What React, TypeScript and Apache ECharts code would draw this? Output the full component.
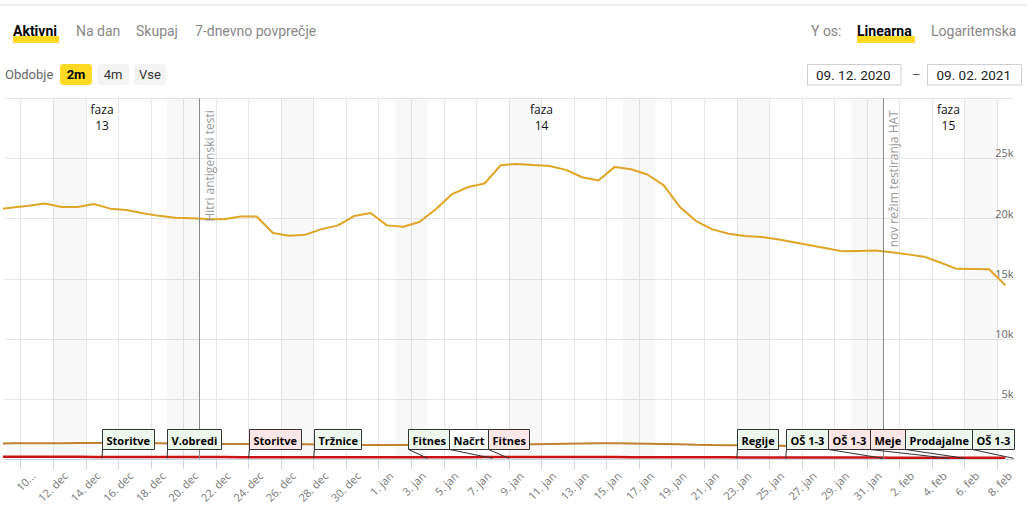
import React, { useEffect, useRef } from "react";
import * as echarts from "echarts";

// Tick categories: midnights from 9. dec 2020 to 9. feb 2021
const days = [
  "9. dec", "10. dec", "11. dec", "12. dec", "13. dec", "14. dec", "15. dec", "16. dec", "17. dec", "18. dec",
  "19. dec", "20. dec", "21. dec", "22. dec", "23. dec", "24. dec", "25. dec", "26. dec", "27. dec", "28. dec",
  "29. dec", "30. dec", "31. dec",
  "1. jan", "2. jan", "3. jan", "4. jan", "5. jan", "6. jan", "7. jan", "8. jan", "9. jan", "10. jan",
  "11. jan", "12. jan", "13. jan", "14. jan", "15. jan", "16. jan", "17. jan", "18. jan", "19. jan", "20. jan",
  "21. jan", "22. jan", "23. jan", "24. jan", "25. jan", "26. jan", "27. jan", "28. jan", "29. jan", "30. jan",
  "31. jan",
  "1. feb", "2. feb", "3. feb", "4. feb", "5. feb", "6. feb", "7. feb", "8. feb", "9. feb",
];

// Daily values (8. dec ... 8. feb), each plotted at noon of its day
const active = [
  20740, 20930, 21080, 21250, 20970, 20970, 21210, 20830, 20720, 20440, 20230, 20080, 20030, 19970, 19940, 20180,
  20180, 18800, 18580, 18670, 19130, 19440, 20220, 20470,
  19440, 19330, 19720, 20780, 22030, 22630, 22920, 24440, 24550, 24460, 24380, 24050, 23440, 23170, 24300, 24110,
  23670, 22780, 20970, 19800, 19110, 18750, 18550, 18480, 18280, 18030, 17780, 17530, 17280, 17320, 17360,
  17200, 17030, 16840, 16350, 15830, 15820, 15800, 14470,
];
const hospitalized = [
  1320, 1325, 1330, 1335, 1340, 1350, 1360, 1370, 1370, 1360, 1340, 1320, 1300, 1290, 1280, 1270, 1270, 1260,
  1250, 1250, 1240, 1220, 1200, 1190,
  1190, 1190, 1200, 1210, 1220, 1230, 1240, 1250, 1250, 1260, 1280, 1300, 1320, 1330, 1330, 1320, 1300, 1280,
  1250, 1210, 1180, 1170, 1160, 1150, 1130, 1110, 1090, 1080, 1060, 1050, 1040,
  1030, 1010, 990, 980, 960, 950, 940, 930,
];
const icu = [
  205, 205, 210, 210, 210, 205, 200, 200, 195, 195, 190, 190, 190, 185, 185, 180, 180, 180, 180, 175, 175, 175,
  175, 170,
  170, 170, 170, 175, 175, 180, 185, 190, 195, 195, 195, 195, 190, 190, 185, 180, 180, 175, 170, 165, 160, 160,
  155, 155, 150, 150, 145, 145, 140, 140, 140,
  135, 135, 130, 130, 125, 125, 120, 120,
];

// Weekends (Saturday -> Monday)
const weekendStarts = ["12. dec", "19. dec", "26. dec", "2. jan", "9. jan", "16. jan", "23. jan", "30. jan", "6. feb"];
const weekendEnds = ["14. dec", "21. dec", "28. dec", "4. jan", "11. jan", "18. jan", "25. jan", "1. feb", "8. feb"];

// Event lines
const eventDays = ["21. dec", "1. feb"];
const eventTexts = ["Hitri antigenski testi", "nov režim testiranja HAT"];

// Phases
const phaseDays = ["15. dec", "11. jan", "5. feb"];
const phaseNames = ["13", "14", "15"];

// Measures (flags)
const flagDays = ["15. dec", "19. dec", "24. dec", "28. dec", "4. jan", "8. jan", "9. jan", "23. jan", "26. jan", "1. feb", "5. feb", "6. feb", "9. feb"];
const flagTexts = ["Storitve", "V.obredi", "Storitve", "Tržnice", "Fitnes", "Načrt", "Fitnes", "Regije", "OŠ 1-3", "OŠ 1-3", "Meje", "Prodajalne", "OŠ 1-3"];
const flagKinds = ["open", "open", "close", "open", "open", "plan", "close", "open", "open", "close", "close", "open", "open"];

const yTicks = [0, 5000, 10000, 15000, 20000, 25000, 30000];

const FONT = "'Open Sans', 'DejaVu Sans', sans-serif";
const UIFONT = "Roboto, 'Open Sans', sans-serif";

const idx = (d: string) => days.indexOf(d);
const everyOther = (i: number) => i % 2 === 1;

function header(): any[] {
  const els: any[] = [];
  const txt = (x: number, y: number, text: string, fill: string, size = 14, weight = "normal") => ({
    type: "text",
    x,
    y,
    z: 100,
    style: { text, fill, font: `${weight} ${size}px ${UIFONT}`, verticalAlign: "middle", align: "left" },
  });
  els.push({ type: "rect", z: 100, shape: { x: 0, y: 4.5, width: 1027, height: 1 }, style: { fill: "#e2e2e2" } });
  els.push({ type: "rect", z: 100, shape: { x: 13, y: 36, width: 46, height: 7 }, style: { fill: "#ffd922" } });
  els.push(txt(13, 31, "Aktivni", "#000", 14, "bold"));
  els.push(txt(76, 31, "Na dan", "#888"));
  els.push(txt(136, 31, "Skupaj", "#888"));
  els.push(txt(195, 31, "7-dnevno povprečje", "#888"));
  els.push(txt(811, 31, "Y os:", "#888"));
  els.push({ type: "rect", z: 100, shape: { x: 857, y: 36, width: 58, height: 7 }, style: { fill: "#ffd922" } });
  els.push(txt(857, 31, "Linearna", "#000", 14, "bold"));
  els.push(txt(931, 31, "Logaritemska", "#888"));

  els.push(txt(5, 74.5, "Obdobje", "#666", 13));
  const btn = (x: number, label: string, active: boolean) => {
    els.push({
      type: "rect",
      z: 100,
      shape: { x, y: 64, width: 32, height: 21, r: 4 },
      style: { fill: active ? "#ffd922" : "#f4f4f4" },
    });
    els.push({
      type: "text",
      x: x + 16,
      y: 74.5,
      z: 101,
      style: {
        text: label,
        fill: active ? "#000" : "#333",
        font: `${active ? "bold" : "normal"} 13px ${UIFONT}`,
        align: "center",
        verticalAlign: "middle",
      },
    });
  };
  btn(60, "2m", true);
  btn(97, "4m", false);
  btn(134, "Vse", false);

  els.push({ type: "rect", z: 100, shape: { x: 807.5, y: 64.5, width: 93.5, height: 20.5 }, style: { fill: "#fff", stroke: "#cfcfcf", lineWidth: 1 } });
  els.push(txt(816, 75, "09. 12. 2020", "#222", 13.5));
  els.push(txt(912, 74, "–", "#555", 13));
  els.push({ type: "rect", z: 100, shape: { x: 927.5, y: 64.5, width: 94, height: 20.5 }, style: { fill: "#fff", stroke: "#cfcfcf", lineWidth: 1 } });
  els.push(txt(936.5, 75, "09. 02. 2021", "#222", 13.5));
  return els;
}

export default function App() {
  const ref = useRef<HTMLDivElement>(null);
  useEffect(() => {
    if (!ref.current) return;
    const chart = echarts.init(ref.current, undefined, { renderer: "svg" });
    const pts = (arr: number[]) => arr.map((v, i) => [i - 0.5, v]);

    const option: any = {
      animation: false,
      textStyle: { fontFamily: FONT },
      grid: { left: 4.4, right: 13.5, top: 98.3, bottom: 61.7, containLabel: false },
      xAxis: [
        {
          type: "category",
          data: days,
          boundaryGap: false,
          axisLine: { lineStyle: { color: "#ccd6eb", width: 1 } },
          axisTick: { show: true, interval: everyOther, length: 10, lineStyle: { color: "#ccd6eb" } },
          splitLine: { show: true, interval: everyOther, lineStyle: { color: "#e6e6e6", width: 1 } },
          axisLabel: {
            interval: everyOther,
            rotate: 45,
            margin: 2,
            color: "#777",
            fontSize: 11,
            fontFamily: FONT,
            verticalAlign: "top",
            padding: [12, 0, 0, 0],
            formatter: (v: string) => (v === days[1] ? "10..." : v),
          },
        },
        { type: "value", min: 0, max: days.length - 1, show: false },
      ],
      yAxis: {
        type: "value",
        min: 0,
        max: 30000,
        interval: 5000,
        position: "right",
        axisLine: { show: false },
        axisTick: { show: false },
        splitLine: { lineStyle: { color: "#e6e6e6", width: 1 } },
        axisLabel: {
          inside: true,
          margin: 0,
          color: "#666",
          fontSize: 11,
          fontFamily: FONT,
          verticalAlign: "bottom",
          formatter: (v: number) => (v === yTicks[0] || v === yTicks[yTicks.length - 1] ? "" : v / 1000 + "k"),
        },
      },
      series: [
        {
          name: "Aktivni",
          type: "line",
          xAxisIndex: 1,
          data: pts(active),
          symbol: "none",
          z: 4,
          lineStyle: { color: "#e0a526", width: 2 },
          itemStyle: { color: "#e0a526" },
          markArea: {
            silent: true,
            itemStyle: { color: "rgba(0,0,0,0.028)" },
            data: weekendStarts.map((s, i) => [{ xAxis: idx(s) }, { xAxis: idx(weekendEnds[i]) }]),
          },
          markLine: {
            silent: true,
            symbol: ["none", "none"],
            lineStyle: { color: "#8a8a8a", width: 1, type: "solid" },
            label: {
              show: true,
              position: "insideEndBottom",
              color: "#9a9a9a",
              fontSize: 12,
              fontFamily: FONT,
              distance: [12, 4],
            },
            data: eventDays.map((d, i) => ({ xAxis: idx(d), label: { formatter: eventTexts[i] } })),
          },
          markPoint: {
            silent: true,
            symbol: "circle",
            symbolSize: 1,
            itemStyle: { color: "rgba(0,0,0,0)" },
            label: {
              show: true,
              position: "inside",
              color: "#111",
              fontSize: 12,
              lineHeight: 16,
              fontFamily: FONT,
            },
            data: phaseDays.map((d, i) => ({ coord: [idx(d), 28400], label: { formatter: "faza\n" + phaseNames[i] } })),
          },
        },
        {
          name: "Hospitalizirani",
          type: "line",
          xAxisIndex: 1,
          data: pts(hospitalized),
          symbol: "none",
          z: 3,
          lineStyle: { color: "#c1802f", width: 2 },
        },
        {
          name: "Intenzivna nega",
          type: "line",
          xAxisIndex: 1,
          data: pts(icu),
          symbol: "none",
          z: 3,
          lineStyle: { color: "#cc1414", width: 2.5 },
        },
      ],
      graphic: header(),
    };
    chart.setOption(option);

    // Flag boxes laid out like a label distributor
    const plotLeft = chart.convertToPixel({ xAxisIndex: 1 }, 0) as number;
    const plotRight = chart.convertToPixel({ xAxisIndex: 1 }, days.length - 1) as number;
    const axisY = chart.convertToPixel({ yAxisIndex: 0 }, 0) as number;
    const ctx = document.createElement("canvas").getContext("2d")!;
    const boxFont = `bold 11px ${FONT}`;
    ctx.font = boxFont;
    const boxes = flagDays.map((d, i) => ({
      target: chart.convertToPixel({ xAxisIndex: 1 }, idx(d)) as number,
      size: Math.round(ctx.measureText(flagTexts[i]).width) + 8,
    }));
    let groups = boxes.map((b, i) => ({ pos: b.target, size: b.size, targets: [b.target], align: 0, items: [i] }));
    let overlapping = true;
    let guard = 0;
    while (overlapping && guard++ < 100) {
      for (const g of groups) {
        const t = (Math.min(...g.targets) + Math.max(...g.targets)) / 2;
        g.pos = Math.min(Math.max(t - g.size * g.align, plotLeft), plotRight - g.size);
      }
      overlapping = false;
      for (let i = groups.length - 1; i > 0; i--) {
        const a = groups[i - 1];
        const b = groups[i];
        if (a.pos + a.size > b.pos) {
          a.size += b.size;
          a.targets = a.targets.concat(b.targets);
          a.items = a.items.concat(b.items);
          a.align = 0.5;
          if (a.pos + a.size > plotRight) a.pos = plotRight - a.size;
          groups.splice(i, 1);
          overlapping = true;
        }
      }
    }
    const lefts: number[] = [];
    for (const g of groups) {
      let x = g.pos;
      for (const it of g.items) {
        lefts[it] = x;
        x += boxes[it].size;
      }
    }
    const top = Math.round(axisY - 30) + 0.5;
    const h = 20;
    const fills: Record<string, string> = { open: "#ebf8eb", close: "#fde6e6", plan: "#ffffff" };
    const flagEls: any[] = [];
    flagTexts.forEach((t, i) => {
      const l = Math.round(lefts[i]) + 0.5;
      flagEls.push({
        type: "line",
        z: 90,
        shape: { x1: l, y1: top + h, x2: boxes[i].target, y2: axisY - 1 },
        style: { stroke: "#333", lineWidth: 1 },
      });
      flagEls.push({
        type: "rect",
        z: 91 + i * 2,
        shape: { x: l, y: top, width: boxes[i].size, height: h },
        style: { fill: fills[flagKinds[i]], stroke: "#333", lineWidth: 1 },
      });
      flagEls.push({
        type: "text",
        z: 92 + i * 2,
        x: l + 4,
        y: top + h / 2 + 0.5,
        style: { text: t, font: boxFont, fill: "#000", verticalAlign: "middle", align: "left" },
      });
    });
    chart.setOption({ graphic: [...header(), ...flagEls] }, { replaceMerge: ["graphic"] });

    return () => chart.dispose();
  }, []);
  return <div ref={ref} style={{ position: "absolute", left: 0, top: 0, width: 1027, height: 521 }} />;
}
